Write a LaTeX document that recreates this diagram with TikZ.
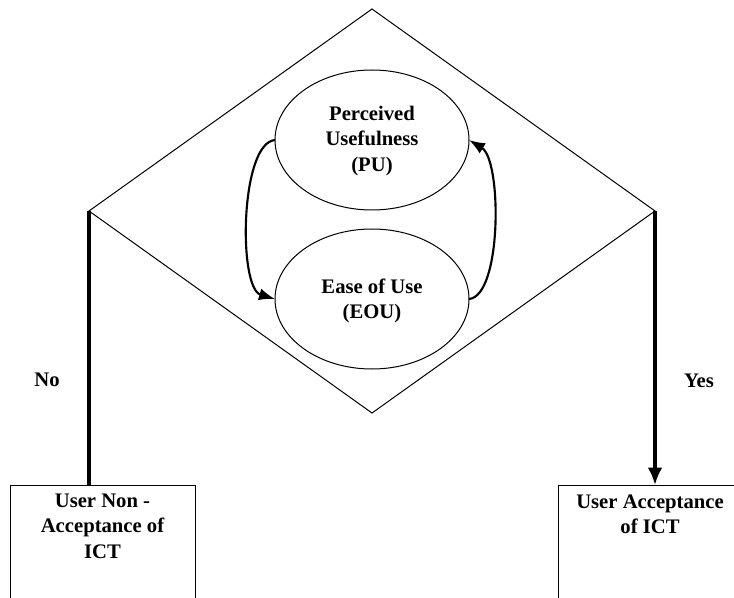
\documentclass[tikz,border=0pt]{standalone}
\usepackage{fontspec}
\setmainfont{Liberation Serif}
\usetikzlibrary{shapes.geometric,arrows.meta}
\tikzset{
  txt/.style={font=\bfseries\fontsize{15.5}{19}\selectfont, align=center, inner sep=0pt},
  oval/.style={draw, ellipse, line width=0.75pt, minimum width=194*0.75pt, minimum height=140*0.75pt, inner sep=0pt, outer sep=0pt},
  bigdia/.style={draw, diamond, line width=0.75pt, minimum width=566*0.75pt, minimum height=404*0.75pt, inner sep=0pt, outer sep=0pt},
  outbox/.style={draw, rectangle, line width=0.75pt, minimum width=185*0.75pt, minimum height=165*0.75pt, inner sep=0pt, outer sep=0pt},
  cycarrow/.style={line width=1.6pt, -{Latex[length=12pt,width=9pt]}},
  thickline/.style={line width=2.4pt},
  thickarrow/.style={line width=2.4pt, -{Latex[length=13pt,width=11pt]}}
}
\begin{document}
\begin{tikzpicture}[x=0.75pt,y=-0.75pt]
\clip (0,0) rectangle (734,598);
\fill[white] (0,0) rectangle (734,598);
\node[bigdia] (dia) at (372,211) {};
\node[oval] (pu) at (372,140) {};
\node[txt] (putext) at (372,141) {Perceived\\Usefulness\\(PU)};
\node[oval] (eou) at (372,299) {};
\node[txt] (eoutext) at (372,301) {Ease of Use\\(EOU)};
\draw[cycarrow] (pu.west) .. controls (240,143) and (238,288) .. (eou.west);
\draw[cycarrow] (eou.east) .. controls (502,296) and (502,160) .. (pu.east);
\node[outbox] (nobox) at (102.5,567.5) {};
\node[txt] (notext) at (102.5,526) {User Non -\\Acceptance of\\ICT};
\node[outbox, minimum width=184*0.75pt] (yesbox) at (650,567.5) {};
\node[txt] (yestext) at (650,514) {User Acceptance\\of ICT};
\draw[thickline] (dia.west) -- (dia.west |- nobox.north);
\draw[thickarrow] (dia.east) -- (dia.east |- yesbox.north);
\node[txt] (nolabel) at (47,380) {No};
\node[txt] (yeslabel) at (699,381) {Yes};
\end{tikzpicture}
\end{document}
